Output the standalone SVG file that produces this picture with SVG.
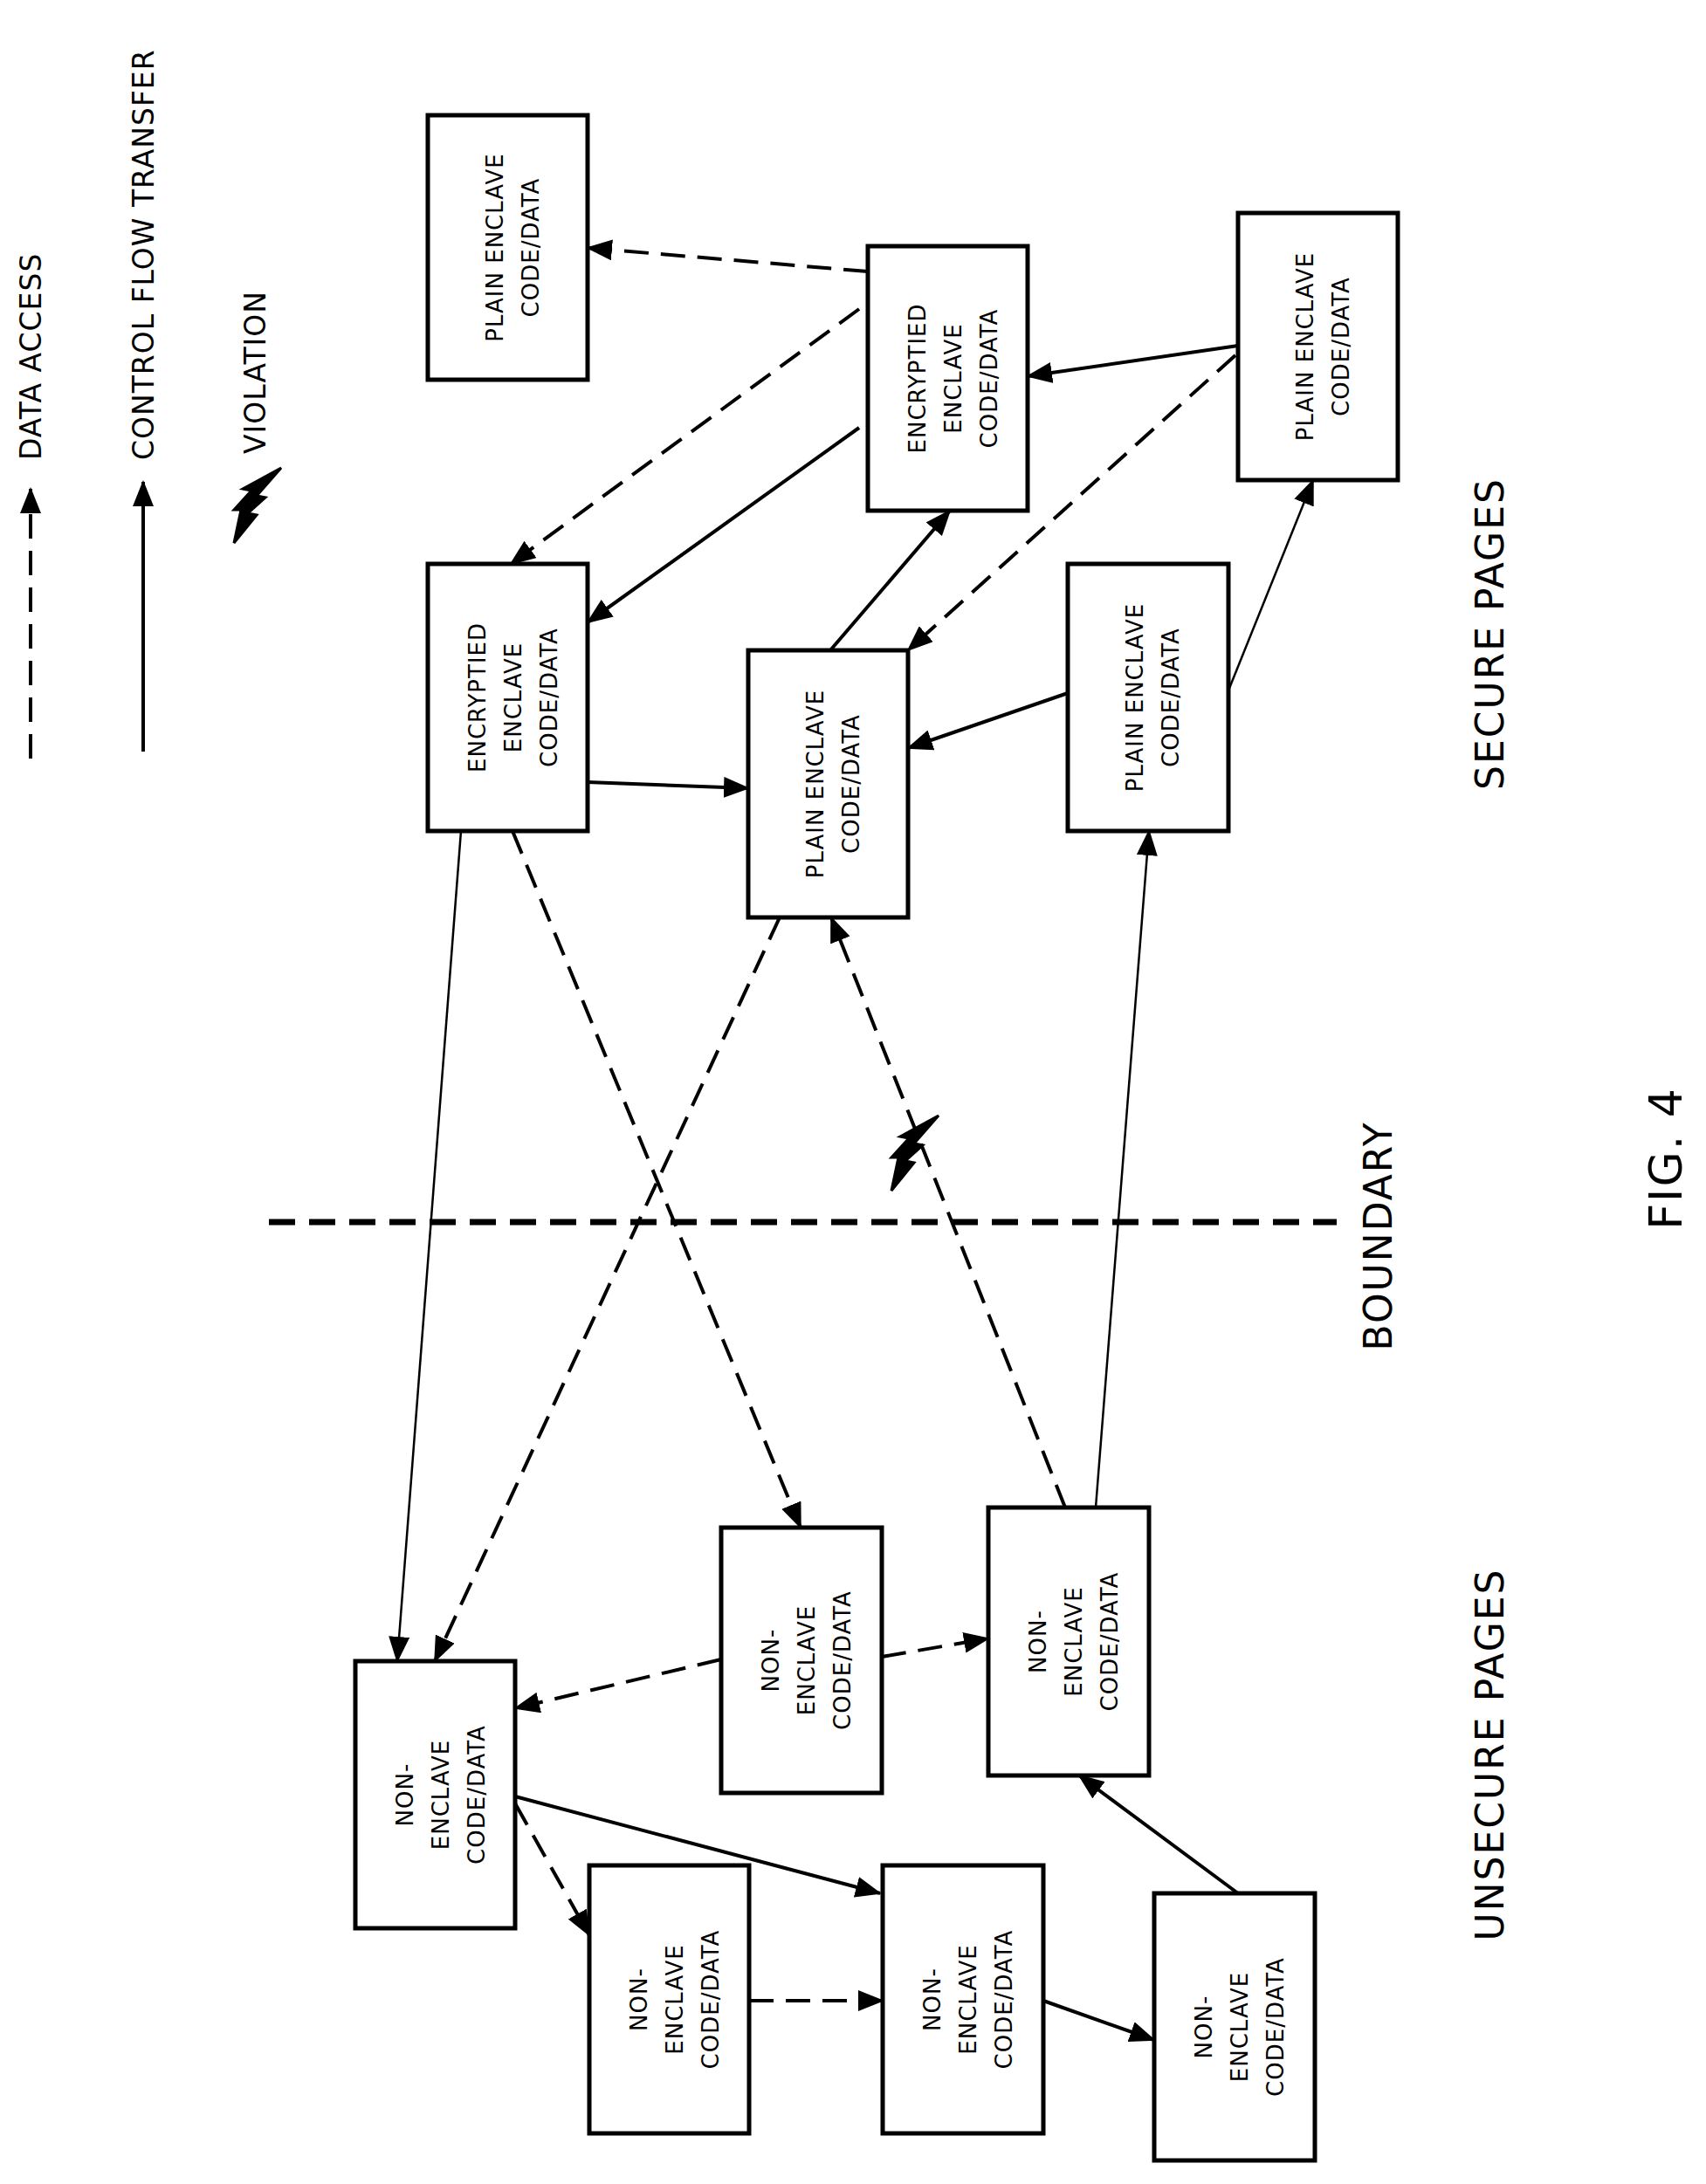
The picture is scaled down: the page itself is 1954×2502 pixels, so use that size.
<svg xmlns="http://www.w3.org/2000/svg" width="1954" height="2502" viewBox="0 0 1954 2502">
<defs>
<marker id="ah" markerUnits="userSpaceOnUse" markerWidth="30" markerHeight="24" refX="28" refY="12" orient="auto"><path d="M0,0 L30,12 L0,24 Z" fill="#000"/></marker>
<style>
rect{fill:#fff;stroke:#000;stroke-width:5}
.t{font-family:"DejaVu Sans",sans-serif;font-size:26px;letter-spacing:1px;fill:#000;text-anchor:middle}
.l{font-family:"DejaVu Sans",sans-serif;font-size:33px;letter-spacing:1px;fill:#000}
.b{font-family:"DejaVu Sans",sans-serif;font-size:44px;letter-spacing:2px;fill:#000;text-anchor:middle}
.s{stroke:#000;stroke-width:4;fill:none}
.st{stroke:#000;stroke-width:2.5;fill:none}
.d{stroke:#000;stroke-width:4;fill:none;stroke-dasharray:28 14}
</style>
</defs>
<g id="legend">
<line class="d" x1="35" y1="869" x2="35" y2="560" marker-end="url(#ah)"/>
<line class="s" x1="164" y1="861" x2="164" y2="552" marker-end="url(#ah)"/>
<polygon points="322,556 294,588 304,590 284,608 294,610 268,642 276,604 268,604 288,582 278,580" fill="#000" stroke="#000" stroke-width="3" transform="translate(0,-20)"/>
<text class="l" transform="translate(47,527) rotate(-90)">DATA ACCESS</text>
<text class="l" transform="translate(176,527) rotate(-90)">CONTROL FLOW TRANSFER</text>
<text class="l" transform="translate(304,520) rotate(-90)">VIOLATION</text>
</g>
<g id="connectors">
<line class="d" x1="994" y1="311" x2="673" y2="284" marker-end="url(#ah)"/>
<line class="d" x1="984" y1="354" x2="585" y2="646" marker-end="url(#ah)"/>
<line class="s" x1="984" y1="490" x2="673" y2="713" marker-end="url(#ah)"/>
<line class="s" x1="1418" y1="396" x2="1177" y2="431" marker-end="url(#ah)"/>
<line class="d" x1="1415" y1="407" x2="1040" y2="745" marker-end="url(#ah)"/>
<line class="s" x1="951" y1="745" x2="1088" y2="585" marker-end="url(#ah)"/>
<line class="s" x1="1223" y1="794" x2="1040" y2="857" marker-end="url(#ah)"/>
<line class="st" x1="1407" y1="791" x2="1504" y2="550" marker-end="url(#ah)"/>
<line class="s" x1="673" y1="896" x2="857" y2="903" marker-end="url(#ah)"/>
<line class="st" x1="528" y1="952" x2="455" y2="1903" marker-end="url(#ah)"/>
<line class="d" x1="587" y1="952" x2="917" y2="1750" marker-end="url(#ah)"/>
<line class="d" x1="893" y1="1051" x2="498" y2="1903" marker-end="url(#ah)"/>
<line class="d" x1="1220" y1="1727" x2="952" y2="1051" marker-end="url(#ah)"/>
<line class="st" x1="1255" y1="1727" x2="1316" y2="952" marker-end="url(#ah)"/>
<line class="d" x1="826" y1="1901" x2="590" y2="1957" marker-end="url(#ah)"/>
<line class="d" x1="1010" y1="1898" x2="1132" y2="1877" marker-end="url(#ah)"/>
<line class="s" x1="590" y1="2058" x2="1008" y2="2169" marker-end="url(#ah)"/>
<line class="d" x1="590" y1="2066" x2="675" y2="2217" marker-end="url(#ah)"/>
<line class="d" x1="858" y1="2292" x2="1011" y2="2292" marker-end="url(#ah)"/>
<line class="s" x1="1195" y1="2292" x2="1322" y2="2337" marker-end="url(#ah)"/>
<line class="s" x1="1418" y1="2169" x2="1236" y2="2034" marker-end="url(#ah)"/>
<polygon points="322,556 294,588 304,590 284,608 294,610 268,642 276,604 268,604 288,582 278,580" fill="#000" stroke="#000" stroke-width="3" transform="translate(753,722)"/>
<line class="d" x1="308" y1="1400" x2="1531" y2="1400" style="stroke-width:7;stroke-dasharray:30 16"/>
</g>
<g id="n1"><rect x="490" y="132" width="183" height="303"/><text class="t" transform="translate(581.5,283.5) rotate(-90)"><tspan x="0" y="-6">PLAIN ENCLAVE</tspan><tspan x="0" y="35">CODE/DATA</tspan></text></g>
<g id="n2"><rect x="994" y="282" width="183" height="303"/><text class="t" transform="translate(1085.5,433.5) rotate(-90)"><tspan x="0" y="-26">ENCRYPTIED</tspan><tspan x="0" y="15">ENCLAVE</tspan><tspan x="0" y="56">CODE/DATA</tspan></text></g>
<g id="n3"><rect x="1418" y="244" width="183" height="306"/><text class="t" transform="translate(1509.5,397) rotate(-90)"><tspan x="0" y="-6">PLAIN ENCLAVE</tspan><tspan x="0" y="35">CODE/DATA</tspan></text></g>
<g id="n4"><rect x="490" y="646" width="183" height="306"/><text class="t" transform="translate(581.5,799) rotate(-90)"><tspan x="0" y="-26">ENCRYPTIED</tspan><tspan x="0" y="15">ENCLAVE</tspan><tspan x="0" y="56">CODE/DATA</tspan></text></g>
<g id="n5"><rect x="857" y="745" width="183" height="306"/><text class="t" transform="translate(948.5,898) rotate(-90)"><tspan x="0" y="-6">PLAIN ENCLAVE</tspan><tspan x="0" y="35">CODE/DATA</tspan></text></g>
<g id="n6"><rect x="1223" y="646" width="184" height="306"/><text class="t" transform="translate(1315,799) rotate(-90)"><tspan x="0" y="-6">PLAIN ENCLAVE</tspan><tspan x="0" y="35">CODE/DATA</tspan></text></g>
<g id="n7"><rect x="407" y="1903" width="183" height="306"/><text class="t" transform="translate(498.5,2056) rotate(-90)"><tspan x="0" y="-26">NON-</tspan><tspan x="0" y="15">ENCLAVE</tspan><tspan x="0" y="56">CODE/DATA</tspan></text></g>
<g id="n8"><rect x="826" y="1750" width="184" height="304"/><text class="t" transform="translate(918,1902) rotate(-90)"><tspan x="0" y="-26">NON-</tspan><tspan x="0" y="15">ENCLAVE</tspan><tspan x="0" y="56">CODE/DATA</tspan></text></g>
<g id="n9"><rect x="1132" y="1727" width="184" height="307"/><text class="t" transform="translate(1224,1880.5) rotate(-90)"><tspan x="0" y="-26">NON-</tspan><tspan x="0" y="15">ENCLAVE</tspan><tspan x="0" y="56">CODE/DATA</tspan></text></g>
<g id="n10"><rect x="675" y="2137" width="183" height="307"/><text class="t" transform="translate(766.5,2290.5) rotate(-90)"><tspan x="0" y="-26">NON-</tspan><tspan x="0" y="15">ENCLAVE</tspan><tspan x="0" y="56">CODE/DATA</tspan></text></g>
<g id="n11"><rect x="1011" y="2137" width="184" height="307"/><text class="t" transform="translate(1103,2290.5) rotate(-90)"><tspan x="0" y="-26">NON-</tspan><tspan x="0" y="15">ENCLAVE</tspan><tspan x="0" y="56">CODE/DATA</tspan></text></g>
<g id="n12"><rect x="1322" y="2169" width="184" height="306"/><text class="t" transform="translate(1414,2322) rotate(-90)"><tspan x="0" y="-26">NON-</tspan><tspan x="0" y="15">ENCLAVE</tspan><tspan x="0" y="56">CODE/DATA</tspan></text></g>
<g id="labels">
<text class="b" transform="translate(1722,726) rotate(-90)">SECURE PAGES</text>
<text class="b" transform="translate(1722,2010) rotate(-90)">UNSECURE PAGES</text>
<text class="b" transform="translate(1594,1416) rotate(-90)">BOUNDARY</text>
<text class="b" transform="translate(1926,1327) rotate(-90)" style="font-size:52px">FIG. 4</text>
</g>
</svg>
